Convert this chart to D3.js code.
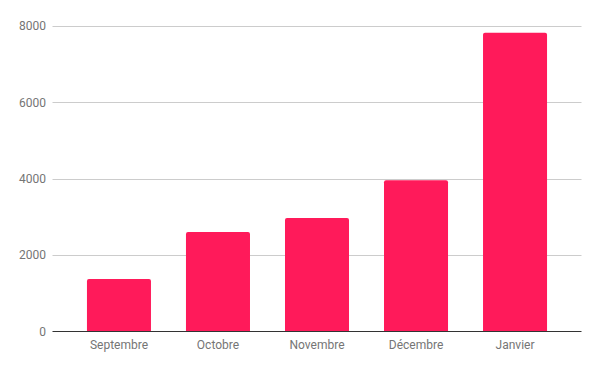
<!DOCTYPE html>
<html lang="fr">
<head>
    <meta charset="UTF-8">
    <title>Bar chart</title>
    <script src="https://d3js.org/d3.v7.min.js"></script>
    <style>
        body { margin: 0; background: #fff; }
        text { font-family: Roboto, sans-serif; font-size: 12px; fill: #757575; }
    </style>
</head>
<body>
<div id="chart"></div>
<script>
const months = ["Septembre", "Octobre", "Novembre", "Décembre", "Janvier"];
const values = [1370, 2600, 2970, 3960, 7820];
const yTicks = [0, 2000, 4000, 6000, 8000];

const width = 600;
const height = 371;
const margin = { top: 26, right: 18.5, bottom: 40, left: 52.5 };

const svg = d3.select("#chart")
    .append("svg")
    .attr("width", width)
    .attr("height", height);

const x = d3.scaleBand()
    .domain(months)
    .range([margin.left, width - margin.right])
    .paddingInner(0.3535)
    .paddingOuter(0.348);

const y = d3.scaleLinear()
    .domain([0, 8000])
    .range([331.3, margin.top]);

// gridlines
svg.append("g")
    .selectAll("line")
    .data(yTicks.filter(d => d > 0))
    .join("line")
    .attr("x1", margin.left)
    .attr("x2", width - margin.right)
    .attr("y1", d => Math.round(y(d)) + 0.5)
    .attr("y2", d => Math.round(y(d)) + 0.5)
    .attr("stroke", "#cccccc")
    .attr("stroke-width", 1);

// y labels
svg.append("g")
    .selectAll("text")
    .data(yTicks)
    .join("text")
    .attr("x", 46)
    .attr("y", d => y(d))
    .attr("dy", "0.35em")
    .attr("text-anchor", "end")
    .text(d => d);

// bars with slightly rounded tops
const r = 2;
svg.append("g")
    .selectAll("path")
    .data(months.map((m, i) => ({ m, v: values[i] })))
    .join("path")
    .attr("fill", "#ff1a5a")
    .attr("d", d => {
        const x0 = x(d.m), x1 = x0 + x.bandwidth();
        const y0 = y(0), y1 = y(d.v);
        return `M${x0},${y0}V${y1 + r}Q${x0},${y1} ${x0 + r},${y1}H${x1 - r}Q${x1},${y1} ${x1},${y1 + r}V${y0}Z`;
    });

// baseline
svg.append("line")
    .attr("x1", margin.left)
    .attr("x2", width - margin.right)
    .attr("y1", 331.5)
    .attr("y2", 331.5)
    .attr("stroke", "#333333")
    .attr("stroke-width", 1);

// x labels
svg.append("g")
    .selectAll("text")
    .data(months)
    .join("text")
    .attr("x", d => x(d) + x.bandwidth() / 2)
    .attr("y", 348.5)
    .attr("text-anchor", "middle")
    .text(d => d);
</script>
</body>
</html>
